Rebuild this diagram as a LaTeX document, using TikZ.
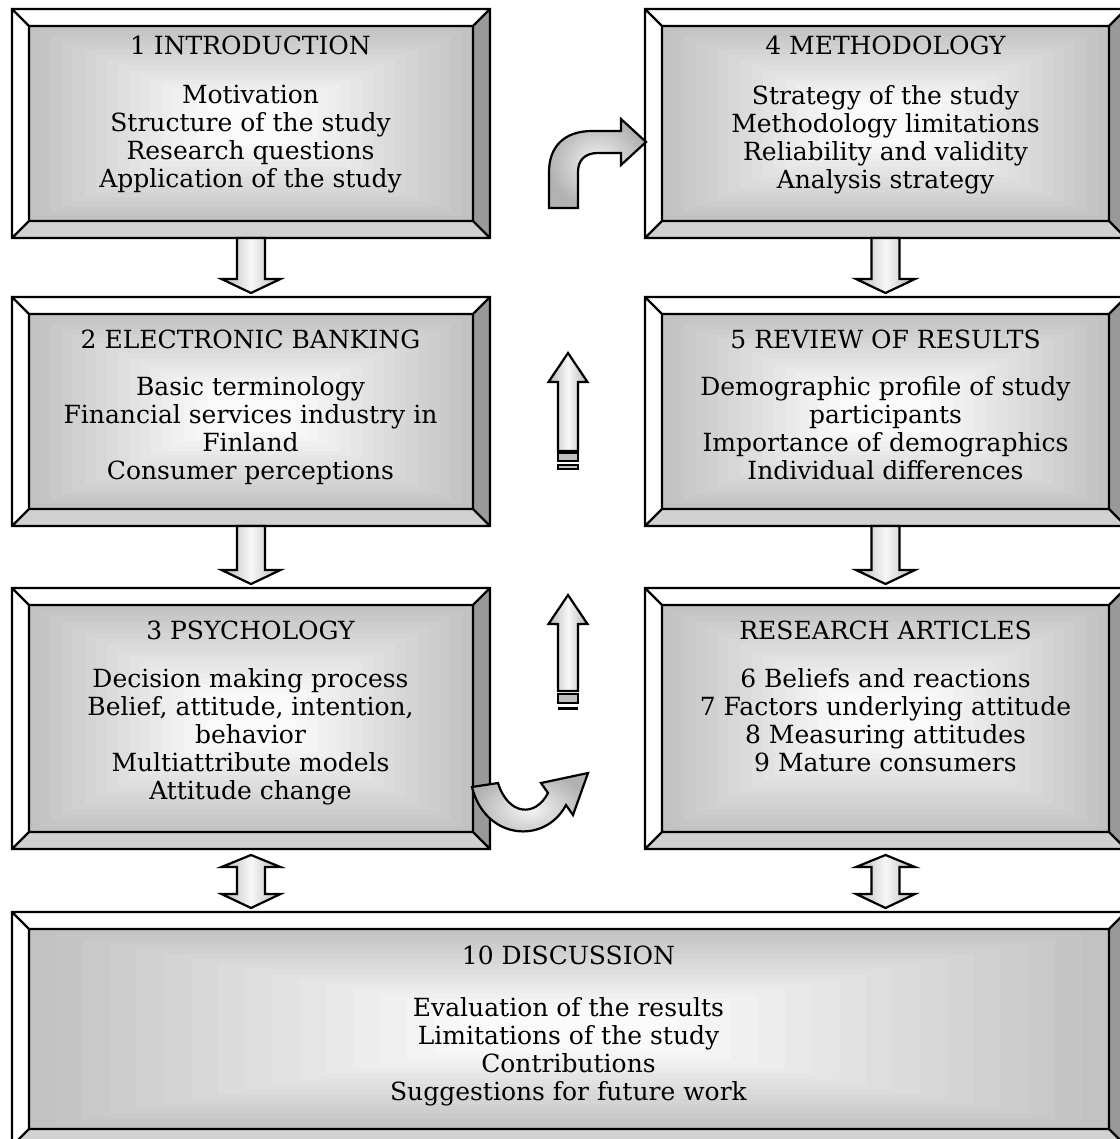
\documentclass[tikz,border=0pt]{standalone}
\usepackage{fontspec}
\setmainfont{DejaVu Serif}
\usetikzlibrary{calc,backgrounds}

\tikzset{
  frame/.style 2 args={minimum width=#1*0.5pt, minimum height=#2*0.5pt,
    inner sep=0pt, outer sep=0pt},
  outline/.style={draw=black, line width=1.1pt, line join=miter},
  bevellight/.style={fill=white},
  bevelmid/.style={fill=black!18},
  bevelshade/.style={fill=black!40},
  blockarrow/.style={draw=black, line width=1.1pt, line join=miter,
    left color=black!28, right color=black!28, middle color=black!3},
  bentarrow/.style={draw=black, line width=1.1pt, line join=miter,
    inner color=black!4, outer color=black!30},
  band/.style={draw=black, line width=1.1pt, fill=black!25},
  title/.style={font=\fontsize{12.5}{14}\selectfont, anchor=base, inner sep=0pt},
  body/.style={font=\fontsize{12.5}{14}\selectfont, align=center, anchor=north, inner sep=0pt},
}

% bevelled frame drawn behind a named node
\newcommand\bevel[1]{%
  \begin{pgfonlayer}{background}
    \coordinate (A) at (#1.north west);
    \coordinate (B) at (#1.north east);
    \coordinate (C) at (#1.south east);
    \coordinate (D) at (#1.south west);
    \coordinate (a) at ($(A)+(17,17)$);
    \coordinate (b) at ($(B)+(-17,17)$);
    \coordinate (c) at ($(C)+(-17,-17)$);
    \coordinate (d) at ($(D)+(17,-17)$);
    \fill[bevellight] (A) -- (B) -- (b) -- (a) -- (d) -- (D) -- cycle;
    \fill[bevelshade] (B) -- (C) -- (c) -- (b) -- cycle;
    \fill[bevelmid] (D) -- (C) -- (c) -- (d) -- cycle;
    \foreach \i in {0,...,16} {
      \pgfmathsetmacro\bvt{\i/20}
      \pgfmathsetmacro\bvc{max(2,24-28*\bvt)}
      \fill[black!\bvc] ($(a)!\bvt!(#1.center)$) rectangle ($(c)!\bvt!(#1.center)$);
    }
    \draw[outline] (A) rectangle (C) (a) rectangle (c)
      (A) -- (a) (B) -- (b) (C) -- (c) (D) -- (d);
  \end{pgfonlayer}}

% block arrow from the bottom of one box down to the top of the next
\newcommand\arrowdown[2]{%
  \path[blockarrow] let \p1=(#1.south), \p2=(#2.north) in
    (\x1-7pt,\y1) -- (\x1-7pt,\y2+9pt) -- (\x1-14.75pt,\y2+9pt) -- (\x1,\y2+2pt)
    -- (\x1+14.75pt,\y2+9pt) -- (\x1+7pt,\y2+9pt) -- (\x1+7pt,\y1) -- cycle;}

% double-headed block arrow between two boxes
\newcommand\arrowboth[2]{%
  \path[blockarrow] let \p1=(#1.south), \p2=(#2.north) in
    (\x1,\y1-3pt) -- (\x1+14.75pt,\y1-9pt) -- (\x1+7pt,\y1-9pt) -- (\x1+7pt,\y2+9pt)
    -- (\x1+14.75pt,\y2+9pt) -- (\x1,\y2+2pt) -- (\x1-14.75pt,\y2+9pt) -- (\x1-7pt,\y2+9pt)
    -- (\x1-7pt,\y1-9pt) -- (\x1-14.75pt,\y1-9pt) -- cycle;}

\begin{document}
\begin{tikzpicture}[x=0.5pt,y=-0.5pt]
\useasboundingbox (0,0) rectangle (1119,1139);

% chapter boxes
\node[frame={478}{229}] (intro)    at (251,123.5)  {};
\node[frame={481}{229}] (method)   at (885.5,123.5) {};
\node[frame={478}{229}] (ebank)    at (251,411.5)  {};
\node[frame={481}{229}] (review)   at (885.5,411.5) {};
\node[frame={478}{261}] (psych)    at (251,718.5)  {};
\node[frame={481}{261}] (articles) at (885.5,718.5) {};
\node[frame={1114}{234}] (disc)    at (569,1029)   {};

\bevel{intro}
\bevel{method}
\bevel{ebank}
\bevel{review}
\bevel{psych}
\bevel{articles}
\bevel{disc}

% texts
\node[title] (intro-t) at (250.5,55) {1 INTRODUCTION};
\node[body]  (intro-b) at (250.5,85) {Motivation\\Structure of the study\\Research questions\\Application of the study};

\node[title] (method-t) at (885.5,55) {4 METHODOLOGY};
\node[body]  (method-b) at (885.5,85) {Strategy of the study\\Methodology limitations\\Reliability and validity\\Analysis strategy};

\node[title] (ebank-t) at (250.5,348) {2 ELECTRONIC BANKING};
\node[body]  (ebank-b) at (250.5,376) {Basic terminology\\Financial services industry in\\Finland\\Consumer perceptions};

\node[title] (review-t) at (885.5,348) {5 REVIEW OF RESULTS};
\node[body]  (review-b) at (885.5,376) {Demographic profile of study\\participants\\Importance of demographics\\Individual differences};

\node[title] (psych-t) at (250.5,639) {3 PSYCHOLOGY};
\node[body]  (psych-b) at (250.5,668) {Decision making process\\Belief, attitude, intention,\\behavior\\Multiattribute models\\Attitude change};

\node[title] (articles-t) at (885.5,639) {RESEARCH ARTICLES};
\node[body]  (articles-b) at (885.5,668) {6 Beliefs and reactions\\7 Factors underlying attitude\\8 Measuring attitudes\\9 Mature consumers};

\node[title] (disc-t) at (568.5,964) {10 DISCUSSION};
\node[body]  (disc-b) at (568.5,997) {Evaluation of the results\\Limitations of the study\\Contributions\\Suggestions for future work};

% straight block arrows
\arrowdown{intro}{ebank}
\arrowdown{ebank}{psych}
\arrowdown{method}{review}
\arrowdown{review}{articles}
\arrowboth{psych}{disc}
\arrowboth{articles}{disc}

% bent arrow leading to the methodology box
\path[bentarrow] (549,208) -- (549,172) .. controls (549,146) and (565,131) .. (592,131)
  -- (621,131) -- (621,119) -- (646,142) -- (621,165) -- (621,153) -- (598,153)
  .. controls (585,153) and (578,160) .. (578,172) -- (578,208) -- cycle;

% upward striped arrows between the columns
\path[blockarrow] (568,353) -- (587.5,382) -- (578,382) -- (578,451) -- (558,451)
  -- (558,382) -- (548.5,382) -- cycle;
\draw[band] (558,452) rectangle (578,461);
\draw[line width=1.8pt] (558,452) -- (578,452);
\draw[band] (558,465) rectangle (578,469);

\path[blockarrow] (568,595) -- (587.5,624) -- (578,624) -- (578,691) -- (558,691)
  -- (558,624) -- (548.5,624) -- cycle;
\draw[band] (558,694) rectangle (578,703);
\fill[black] (558,706.5) rectangle (578,710);

% U-turn arrow under the columns
\path[bentarrow] (472,787) .. controls (485,840) and (545,845) .. (566,805)
  -- (573,815) -- (588,773) -- (541,783) -- (548,793)
  .. controls (535,818) and (508,815) .. (498,783) -- cycle;
\end{tikzpicture}
\end{document}
